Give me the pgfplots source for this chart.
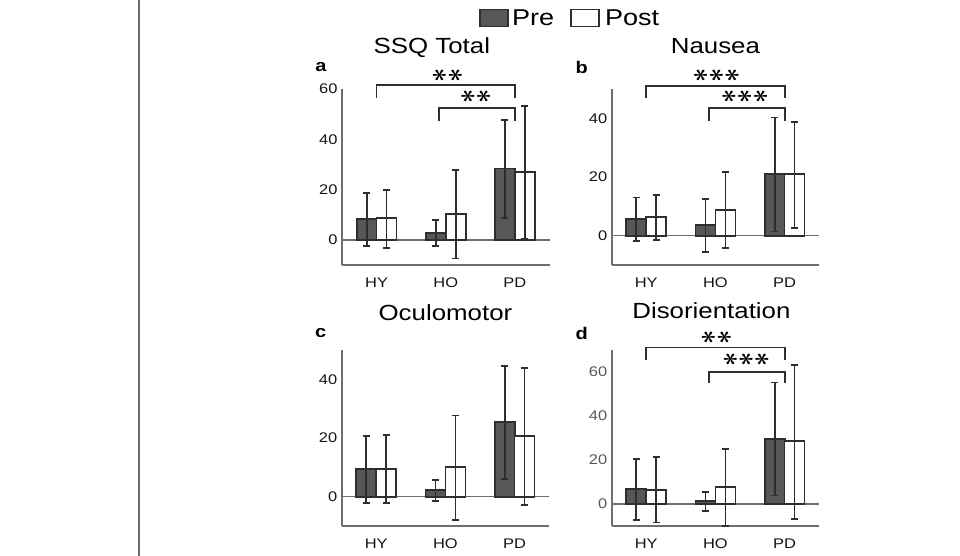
\documentclass[border=0pt]{standalone}
\usepackage{pgfplots}
\pgfplotsset{compat=1.18}
\usepackage{graphicx}
\usepackage{fontspec}
\setmainfont{Liberation Sans}[FakeStretch=1.18]
\definecolor{prefill}{HTML}{575757}
\definecolor{edge}{HTML}{2E2E2E}
\definecolor{axgray}{HTML}{6E6E6E}

\pgfplotsset{
 panel/.style={
  scale only axis, width=207.5bp, height=176bp,
  anchor=south west,
  xmin=0.5, xmax=3.5, ymin=-10,
  axis x line*=bottom, axis y line*=left,
  axis line style={draw=axgray, line width=1.8bp, -},
  xtick={1,2,3}, xticklabels={HY,HO,PD},
  major tick length=0pt,
  tick label style={font=\fontsize{14}{14}\selectfont, text=black!92},
  /pgf/number format/assume math mode=true,
  xticklabel style={yshift=-9bp},
  yticklabel style={xshift=-1bp},
  clip=false,
  title style={font=\fontsize{22}{22}\selectfont, anchor=center, at={(0.5,1)}},
 },
 barcommon/.style={ybar, bar width=20bp, bar shift=0pt, draw=edge, line width=1.8bp,
  error bars/.cd, y dir=both, y explicit,
  error bar style={line width=1.8bp, draw=edge},
  error mark options={rotate=90, mark size=3.5bp, line width=1.8bp, draw=edge}},
 prebar/.style={fill=prefill, barcommon},
 postbar/.style={fill=white, barcommon},
}
\newcommand{\zeroline}{\draw[axgray, line width=1.3bp] (axis cs:0.5,0) -- (axis cs:3.5,0);}
\newcommand{\st}{\rotatebox{90}{\boldmath$\ast$}}
\newcommand{\two}{\fontsize{24}{24}\selectfont\scalebox{1.2}[1]{\st\hspace{1.5bp}\st}}
\newcommand{\three}{\fontsize{24}{24}\selectfont\scalebox{1.2}[1]{\st\hspace{1.5bp}\st\hspace{1.5bp}\st}}

\begin{document}
\begin{tikzpicture}
\useasboundingbox (0,0) rectangle (960bp,556bp);
\draw[axgray, line width=1.3bp] (139bp,0) -- (139bp,556bp);

% ---------- a ----------
\begin{axis}[panel, at={(342bp,291bp)}, ymax=60, ytick={0,20,40,60},
  title={SSQ Total}, title style={yshift=35bp, xshift=-14bp},
  legend style={at={(1.10,1.403)}, anchor=center, draw=none, fill=none,
    legend columns=2, font=\fontsize{23}{23}\selectfont,
    /tikz/every even column/.append style={column sep=14bp}},
  legend image code/.code={\draw[#1, line width=1.8bp] (0bp,-8.5bp) rectangle (28bp,8.5bp);}]
\zeroline
\addplot[prebar] table[x=x, y=y, y error plus=ep, y error minus=em] {
x y ep em
0.856 8.2 10.3 10.5
1.856 2.7 5.1 5.2
2.856 28.4 19.3 19.6
};
\addlegendentry{\hspace{1bp}Pre}
\addplot[postbar] table[x=x, y=y, y error plus=ep, y error minus=em] {
x y ep em
1.144 8.7 11.1 11.8
2.144 10.3 17.4 17.7
3.144 27.1 26.2 26.8
};
\addlegendentry{\hspace{3bp}Post}
\draw[edge, line width=1.8bp] (axis cs:1,56.4) -- (axis cs:1,61.6) -- (axis cs:3,61.6) -- (axis cs:3,56.4);
\draw[edge, line width=1.8bp] (axis cs:1.9,47.3) -- (axis cs:1.9,52.6) -- (axis cs:3,52.6) -- (axis cs:3,47.3);
\node[inner sep=0pt] at (axis cs:2.03,65.6) {\two};
\node[inner sep=0pt] at (axis cs:2.44,56.9) {\two};
\node[font=\fontsize{17}{17}\selectfont\bfseries] at (rel axis cs:0,1) [xshift=-21bp, yshift=22bp] {a};
\end{axis}

% ---------- b ----------
\begin{axis}[panel, at={(611.7bp,291bp)}, ymax=50, ytick={0,20,40},
  title={Nausea}, title style={yshift=37bp}]
\zeroline
\addplot[prebar] table[x=x, y=y, y error plus=ep, y error minus=em] {
x y ep em
0.856 5.7 7.3 7.5
1.856 3.6 8.8 9.1
2.856 20.9 19.4 19.5
};
\addplot[postbar] table[x=x, y=y, y error plus=ep, y error minus=em] {
x y ep em
1.144 6.25 7.5 7.75
2.144 8.75 13.05 13.05
3.144 21.0 17.75 18.3
};
\draw[edge, line width=1.8bp] (axis cs:1,46.8) -- (axis cs:1,51.0) -- (axis cs:3,51.0) -- (axis cs:3,46.8);
\draw[edge, line width=1.8bp] (axis cs:1.91,39.2) -- (axis cs:1.91,43.6) -- (axis cs:3,43.6) -- (axis cs:3,39.2);
\node[inner sep=0pt] at (axis cs:2.02,54.8) {\three};
\node[inner sep=0pt] at (axis cs:2.43,47.4) {\three};
\node[font=\fontsize{17}{17}\selectfont\bfseries] at (rel axis cs:0,1) [xshift=-30bp, yshift=22bp] {b};
\end{axis}

% ---------- c ----------
\begin{axis}[panel, at={(341.7bp,30bp)}, ymax=50, ytick={0,20,40},
  title={Oculomotor}, title style={yshift=31bp}]
\zeroline
\addplot[prebar] table[x=x, y=y, y error plus=ep, y error minus=em] {
x y ep em
0.856 9.3 11.3 11.4
1.856 2.3 3.5 3.7
2.856 25.5 19.1 19.4
};
\addplot[postbar] table[x=x, y=y, y error plus=ep, y error minus=em] {
x y ep em
1.144 9.5 11.4 11.6
2.144 10.0 17.7 17.9
3.144 20.6 23.2 23.5
};
\node[font=\fontsize{17}{17}\selectfont\bfseries] at (rel axis cs:0,1) [xshift=-21bp, yshift=17bp] {c};
\end{axis}

% ---------- d ----------
\begin{axis}[panel, at={(611.7bp,30bp)}, ymax=70, ytick={0,20,40,60},
  title={Disorientation}, title style={yshift=33bp, xshift=-4bp},
  yticklabel style={text=black!65}]
\zeroline
\addplot[prebar] table[x=x, y=y, y error plus=ep, y error minus=em] {
x y ep em
0.856 7.0 13.4 14.1
1.856 1.4 4.2 4.6
2.856 29.7 25.5 25.8
};
\addplot[postbar] table[x=x, y=y, y error plus=ep, y error minus=em] {
x y ep em
1.144 6.5 14.7 14.9
2.144 7.7 17.2 17.6
3.144 28.5 34.6 35.3
};
\draw[edge, line width=1.8bp] (axis cs:1,65.3) -- (axis cs:1,71.1) -- (axis cs:3,71.1) -- (axis cs:3,65.3);
\draw[edge, line width=1.8bp] (axis cs:1.91,54.9) -- (axis cs:1.91,60) -- (axis cs:3,60) -- (axis cs:3,54.9);
\node[inner sep=0pt] at (axis cs:2.02,75.8) {\two};
\node[inner sep=0pt] at (axis cs:2.45,65.7) {\three};
\node[font=\fontsize{17}{17}\selectfont\bfseries] at (rel axis cs:0,1) [xshift=-30bp, yshift=17bp] {d};
\end{axis}
\end{tikzpicture}
\end{document}
